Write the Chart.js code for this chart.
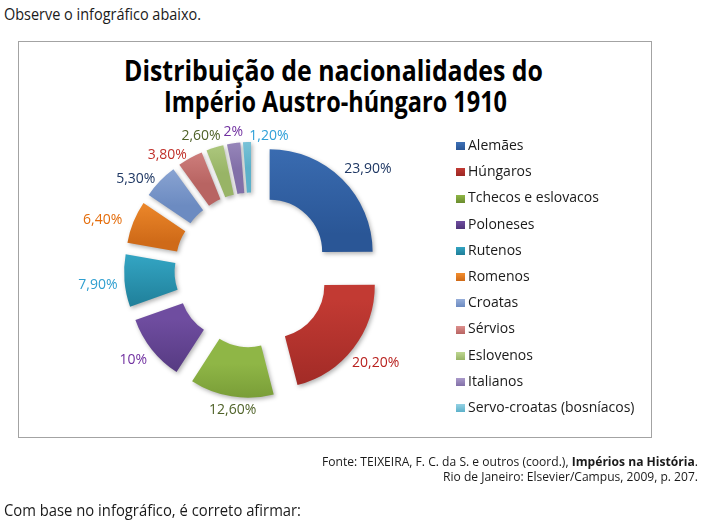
<!DOCTYPE html>
<html><head><meta charset="utf-8">
<script src="https://cdn.jsdelivr.net/npm/chart.js@4.4.1/dist/chart.umd.min.js"></script>
<style>
html,body{margin:0;padding:0;background:#fff;}
body{width:702px;height:520px;position:relative;overflow:hidden;font-family:"Open Sans",sans-serif;color:#1a1a1a;}
.t{position:absolute;white-space:nowrap;display:inline-block;transform-origin:0 50%;}
#frame{position:absolute;left:18px;top:41px;width:634px;height:397px;border:1px solid #a3a3a3;box-sizing:border-box;}
#wrap{position:absolute;left:0;top:0;width:702px;height:520px;}
.sw{position:absolute;width:9px;height:8px;}
.lt{position:absolute;white-space:nowrap;font-size:14px;line-height:14px;color:#1a1a1a;transform-origin:0 50%;}
</style></head>
<body>
<div class="t" data-w="197" style="left:4px;top:6px;font-size:16.5px;line-height:16.5px;">Observe o infográfico abaixo.</div>
<div id="frame"></div>
<div class="t" data-w="419" style="left:124px;top:56px;font-size:28px;line-height:28px;font-weight:700;color:#000;">Distribuição de nacionalidades do</div>
<div class="t" data-w="343" style="left:164px;top:87px;font-size:28px;line-height:28px;font-weight:700;color:#000;">Império Austro-húngaro 1910</div>
<div id="wrap"><canvas id="c"></canvas></div>
<div id="legend"></div>
<div class="t" data-w="376" style="left:322px;top:456px;font-size:12.5px;line-height:12.5px;">Fonte: TEIXEIRA, F. C. da S. e outros (coord.), <b>Impérios na História</b>.</div>
<div class="t" data-w="255" style="left:443px;top:471px;font-size:12.5px;line-height:12.5px;">Rio de Janeiro: Elsevier/Campus, 2009, p. 207.</div>
<div class="t" data-w="297" style="left:4px;top:502px;font-size:16.5px;line-height:16.5px;">Com base no infográfico, é correto afirmar:</div>
<script>
// ---- data ----
const categories = ['Alemães','Húngaros','Tchecos e eslovacos','Poloneses','Rutenos','Romenos','Croatas','Sérvios','Eslovenos','Italianos','Servo-croatas (bosníacos)'];
const shares = [23.9, 20.2, 12.6, 10, 7.9, 6.4, 5.3, 3.8, 2.6, 2, 1.2];

// ---- styles ----
const topColors    = ['#3D70B6','#C23A33','#8FB646','#6F4DA0','#33A4C2','#F38E2E','#97AFDA','#DD908E','#BED791','#AA9ACA','#95D2E4'];
const bottomColors = ['#2A5696','#9C2824','#6A8C2E','#4F3579','#1F7E98','#CF6A18','#6C8BC1','#B86462','#98B466','#8270A8','#5CB1CA'];
const labelColors  = ['#1F3864','#B8211E','#4F6228','#7030A0','#2F9FD0','#E46C0A','#1F3864','#C0302A','#4F6228','#7030A0','#2FA0D8'];
const labelNudgeX = [4,-2,6,-2,0,-6,-5,-10,-6,2,23];
const labelNudgeY = [0,6,0,2,3,3,8,9,2,3,8];
const EXPLODE = 25, LABEL_GAP = 7;

function fmt(v){ return (Number.isInteger(v) ? String(v) : v.toFixed(2).replace('.', ',')) + '%'; }

// fit HTML text widths
document.querySelectorAll('.t').forEach(el=>{
  const w = el.getBoundingClientRect().width;
  el.style.transform = 'scaleX(' + (+el.dataset.w / w) + ')';
});

// legend
const lg = document.getElementById('legend');
categories.forEach((name,i)=>{
  const base = 150.5 + 26.2*i;
  const sw = document.createElement('div');
  sw.className = 'sw';
  sw.style.left = '456px';
  sw.style.top = (base - 8.3) + 'px';
  sw.style.background = 'linear-gradient(' + topColors[i] + ',' + bottomColors[i] + ')';
  lg.appendChild(sw);
  const tx = document.createElement('div');
  tx.className = 'lt';
  tx.style.left = '468px';
  tx.style.top = (base - 0.888*14) + 'px';
  tx.textContent = name;
  lg.appendChild(tx);
});

const explodePlugin = {
  id: 'explodeDraw',
  beforeDatasetDraw(chart, args){
    const ctx = chart.ctx;
    args.meta.data.forEach((arc,i)=>{
      const p = arc.getProps(['x','y','startAngle','endAngle','innerRadius','outerRadius'], true);
      const mid = (p.startAngle + p.endAngle)/2;
      const dx = Math.cos(mid)*EXPLODE, dy = Math.sin(mid)*EXPLODE;
      let minY = Infinity, maxY = -Infinity;
      for (let k=0;k<=24;k++){
        const a = p.startAngle + (p.endAngle - p.startAngle)*k/24;
        [p.innerRadius, p.outerRadius].forEach(r=>{
          const yy = p.y + dy + Math.sin(a)*r;
          minY = Math.min(minY, yy); maxY = Math.max(maxY, yy);
        });
      }
      const g = ctx.createLinearGradient(0, minY, 0, maxY);
      g.addColorStop(0, topColors[i]);
      g.addColorStop(1, bottomColors[i]);
      try { arc.options.backgroundColor = g; } catch(e) {}
      ctx.save();
      ctx.translate(dx, dy);
      ctx.shadowColor = 'rgba(0,0,0,0.30)';
      ctx.shadowBlur = 4;
      ctx.shadowOffsetX = 1.5;
      ctx.shadowOffsetY = 2;
      arc.draw(ctx);
      ctx.restore();
    });
    return false;
  },
  afterDatasetsDraw(chart){
    const ctx = chart.ctx;
    const meta = chart.getDatasetMeta(0);
    ctx.save();
    ctx.font = '14px "Open Sans"';
    ctx.textAlign = 'center';
    ctx.textBaseline = 'middle';
    meta.data.forEach((arc,i)=>{
      const p = arc.getProps(['x','y','startAngle','endAngle','outerRadius'], true);
      const mid = (p.startAngle + p.endAngle)/2;
      const c = Math.cos(mid), s = Math.sin(mid);
      const txt = fmt(chart.data.datasets[0].data[i]);
      const w = ctx.measureText(txt).width;
      const ax = p.x + c*(EXPLODE + p.outerRadius + LABEL_GAP);
      const ay = p.y + s*(EXPLODE + p.outerRadius + LABEL_GAP);
      ctx.fillStyle = labelColors[i];
      ctx.fillText(txt, ax + c*w/2 + labelNudgeX[i], ay + s*7 + labelNudgeY[i]);
    });
    ctx.restore();
  }
};

new Chart(document.getElementById('c'), {
  type: 'doughnut',
  data: {
    labels: categories,
    datasets: [{
      data: shares,
      backgroundColor: (ctx)=> bottomColors[ctx.dataIndex],
      borderWidth: 0
    }]
  },
  options: {
    responsive: true,
    maintainAspectRatio: false,
    animation: false,
    events: [],
    radius: 103,
    cutout: '51%',
    layout: { padding: { left: 100, right: 298, top: 130, bottom: 110 } },
    plugins: { legend: { display: false }, tooltip: { enabled: false }, title: { display: false } }
  },
  plugins: [explodePlugin]
});
</script>
</body></html>
